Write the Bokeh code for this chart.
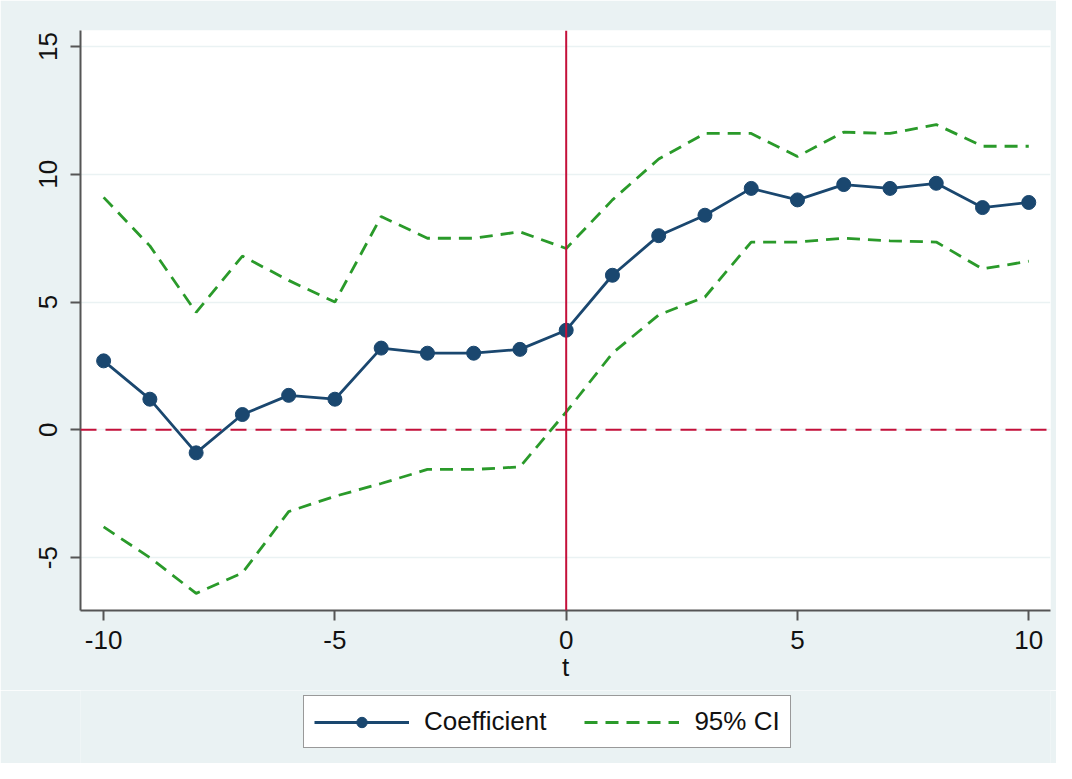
from bokeh.plotting import figure
from bokeh.layouts import column
from bokeh.models import Range1d, Span, FixedTicker, Legend, LegendItem
from bokeh.embed import file_html
from bokeh.resources import INLINE

t = list(range(-10, 11))
coef = [2.7, 1.2, -0.9, 0.6, 1.35, 1.2, 3.2, 3.0, 3.0, 3.15, 3.9,
        6.05, 7.6, 8.4, 9.45, 9.0, 9.6, 9.45, 9.65, 8.7, 8.9]
ci_upper = [9.1, 7.2, 4.6, 6.8, 5.85, 5.0, 8.35, 7.5, 7.5, 7.75, 7.1,
            9.0, 10.6, 11.6, 11.6, 10.7, 11.65, 11.6, 11.95, 11.1, 11.1]
ci_lower = [-3.8, -5.0, -6.4, -5.6, -3.2, -2.6, -2.1, -1.55, -1.55, -1.45, 0.7,
            3.0, 4.5, 5.2, 7.35, 7.35, 7.5, 7.4, 7.35, 6.3, 6.6]
x_ticks = [-10, -5, 0, 5, 10]
x_labels = ["-10", "-5", "0", "5", "10"]
y_ticks = [-5, 0, 5, 10, 15]
y_labels = ["-5", "0", "5", "10", "15"]
legend_labels = ["Coefficient", "95% CI"]

NAVY = "#1a476f"
GREEN = "#2a9a2a"
RED = "#c4103a"
BG = "#eaf2f3"
AX = "#555555"
FONT = "Liberation Sans"
FS = "26px"

p = figure(width=1056, height=690,
           min_border_left=80, min_border_right=6, min_border_top=30, min_border_bottom=80,
           x_range=Range1d(-10.5, 10.47), y_range=Range1d(-7.07, 15.63),
           output_backend="svg", toolbar_location=None)
p.border_fill_color = BG
p.background_fill_color = "white"
p.outline_line_color = None

# grid
p.xgrid.grid_line_color = None
p.ygrid.grid_line_color = BG
p.ygrid.grid_line_width = 1.5
p.ygrid.ticker = FixedTicker(ticks=y_ticks)

# axes
for ax in (p.xaxis[0], p.yaxis[0]):
    ax.axis_line_color = AX
    ax.axis_line_width = 2
    ax.major_tick_line_color = AX
    ax.major_tick_line_width = 2
    ax.major_tick_out = 10
    ax.major_tick_in = 0
    ax.minor_tick_line_color = None
    ax.major_label_text_font = FONT
    ax.major_label_text_font_size = FS
    ax.major_label_text_color = "#111111"

p.xaxis.ticker = FixedTicker(ticks=x_ticks)
p.yaxis.ticker = FixedTicker(ticks=y_ticks)
p.xaxis.major_label_overrides = dict(zip(x_ticks, x_labels))
p.yaxis.major_label_overrides = dict(zip(y_ticks, y_labels))
p.yaxis.major_label_orientation = "vertical"
p.yaxis.major_label_standoff = 13
p.xaxis.major_label_standoff = 10
p.xaxis.axis_label = "t"
p.xaxis.axis_label_text_font = FONT
p.xaxis.axis_label_text_font_size = FS
p.xaxis.axis_label_text_font_style = "normal"
p.xaxis.axis_label_text_color = "#111111"
p.xaxis.axis_label_standoff = 0

# reference lines
p.add_layout(Span(location=0, dimension="height", line_color=RED, line_width=2))
p.add_layout(Span(location=0, dimension="width", line_color=RED, line_width=2,
                  line_dash="16 9"))

# CI
p.line(t, ci_upper, line_color=GREEN, line_width=2.8, line_dash="13 8")
p.line(t, ci_lower, line_color=GREEN, line_width=2.8, line_dash="13 8")

# coefficient
p.line(t, coef, line_color=NAVY, line_width=2.8)
p.scatter(t, coef, size=14, fill_color=NAVY, line_color=NAVY)

# legend strip (separate figure so the legend is not clipped); its ranges
# lie outside the data so the proxy renderers only show in the legend
q = figure(width=1056, height=73, min_border=0,
           x_range=Range1d(100, 101), y_range=Range1d(100, 101),
           x_axis_location=None, y_axis_location=None,
           output_backend="svg", toolbar_location=None)
q.border_fill_color = BG
q.background_fill_color = BG
q.outline_line_color = None
q.grid.visible = False
l_cl = q.line(t, coef, line_color=NAVY, line_width=2.8)
l_cs = q.scatter(t, coef, size=14, fill_color=NAVY, line_color=NAVY)
l_ci = q.line(t, ci_upper, line_color=GREEN, line_width=2.8, line_dash="13 8")

legend = Legend(items=[LegendItem(label=legend_labels[0], renderers=[l_cl, l_cs]),
                       LegendItem(label=legend_labels[1], renderers=[l_ci])],
                orientation="horizontal", location=(223, 15),
                label_text_font=FONT, label_text_font_size=FS,
                label_text_color="#111111",
                glyph_width=95, glyph_height=26, spacing=38, padding=10,
                label_standoff=15,
                border_line_color="#333333", border_line_width=1.5,
                background_fill_color="white", background_fill_alpha=1,
                margin=0)
q.add_layout(legend, "center")

layout = column(p, q, spacing=0)
open("out.html", "w").write(file_html(layout, INLINE))
